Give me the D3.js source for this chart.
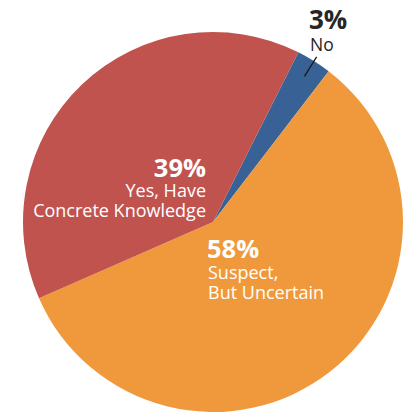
<!DOCTYPE html>
<html><head><meta charset="utf-8">
<script src="https://cdn.jsdelivr.net/npm/d3@7"></script>
<style>body{margin:0;background:#fff}svg{display:block}text{font-family:"Open Sans",sans-serif}</style>
</head><body><svg id="c" width="411" height="414"></svg>
<script>
const categories = ["No", "Suspect, But Uncertain", "Yes, Have Concrete Knowledge"];
const values = [3, 58, 39];
const colors = ["#386195", "#F0993C", "#C1534F"];
const pctLabels = ["3%", "58%", "39%"];

const svg = d3.select("#c");
const cx = 213, cy = 222, r = 190;
const start = 26.7 * Math.PI / 180;
const pie = d3.pie().sort(null).value(d => d).startAngle(start).endAngle(start + 2 * Math.PI);
const arcs = pie(values);
const arc = d3.arc().innerRadius(0).outerRadius(r);
const g = svg.append("g").attr("transform", `translate(${cx},${cy})`);
g.selectAll("path").data(arcs).join("path").attr("d", arc).attr("fill", (d, i) => colors[i]);

// leader line for "No"
const a0 = arcs[0];
const mid = (a0.startAngle + a0.endAngle) / 2;
const p1 = [Math.sin(mid) * (r - 18), -Math.cos(mid) * (r - 18)];
const p2 = [Math.sin(mid) * (r + 5), -Math.cos(mid) * (r + 5)];
g.append("line").attr("x1", p1[0]).attr("y1", p1[1]).attr("x2", p2[0]).attr("y2", p2[1])
  .attr("stroke", "#1a1a1a").attr("stroke-width", 1.3);

function label(x, y, size, weight, anchor, fill, txt) {
  svg.append("text").attr("x", x).attr("y", y).attr("font-size", size).attr("font-weight", weight)
    .attr("text-anchor", anchor).attr("fill", fill).text(txt);
}
label(309, 29, 26, 700, "start", "#262626", pctLabels[0]);
label(310, 51, 17.5, 400, "start", "#262626", categories[0]);

label(206, 177, 25.5, 700, "end", "#fff", pctLabels[2]);
label(206, 197, 18, 400, "end", "#fff", "Yes, Have");
label(206, 217, 18, 400, "end", "#fff", "Concrete Knowledge");

label(207, 258, 25.5, 700, "start", "#fff", pctLabels[1]);
label(208, 279, 18, 400, "start", "#fff", "Suspect,");
label(208, 299, 18, 400, "start", "#fff", "But Uncertain");
</script></body></html>
